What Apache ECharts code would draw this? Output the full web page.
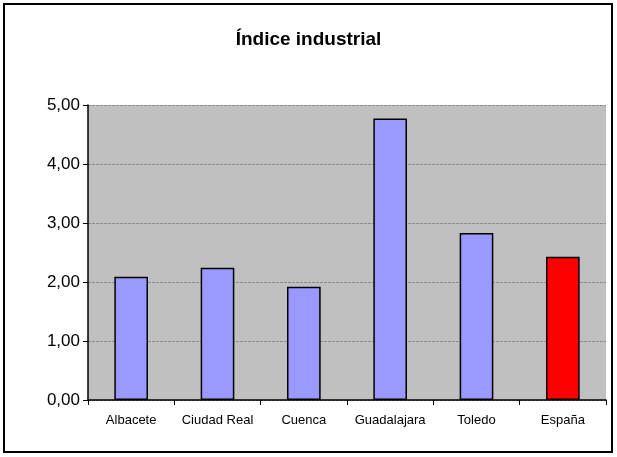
<!DOCTYPE html>
<html><head><meta charset="utf-8">
<script src="https://cdn.jsdelivr.net/npm/echarts@6/dist/echarts.min.js"></script>
<style>html,body{margin:0;padding:0;background:#fff}#c{width:617px;height:457px}</style>
</head><body><div id="c"></div>
<script>
const categories = ['Albacete','Ciudad Real','Cuenca','Guadalajara','Toledo','España'];
const values = [2.09, 2.24, 1.92, 4.77, 2.83, 2.43];
const barColors = ['#9999FF','#9999FF','#9999FF','#9999FF','#9999FF','#FF0000'];
const chart = echarts.init(document.getElementById('c'));
chart.setOption({
  animation:false,
  backgroundColor:'#fff',
  title:{text:'Índice industrial',left:'center',top:25,textStyle:{fontFamily:'Liberation Sans',fontSize:19,fontWeight:'bold',color:'#000'}},
  graphic:[{type:'rect',shape:{x:4,y:4,width:608,height:448},style:{fill:'none',stroke:'#000',lineWidth:2},z:-1}],
  grid:{left:88,right:11,top:105,bottom:57,show:true,backgroundColor:'#C0C0C0',borderWidth:0},
  xAxis:{type:'category',data:categories,
    axisLine:{lineStyle:{color:'#000',width:1.5}},
    axisTick:{show:true,length:5,lineStyle:{color:'#000'}},
    axisLabel:{fontFamily:'Liberation Sans',fontSize:13,color:'#000',margin:14,interval:0}},
  yAxis:{type:'value',min:0,max:5,interval:1,
    axisLine:{show:true,lineStyle:{color:'#000',width:1.5}},
    axisTick:{show:true,length:5,lineStyle:{color:'#000'}},
    splitLine:{lineStyle:{color:'#8c8c8c',type:[3,1],width:1}},
    axisLabel:{fontFamily:'Liberation Sans',fontSize:17,color:'#000',margin:8,
      formatter:v=>v.toFixed(2).replace('.',',')}},
  series:[{type:'bar',barWidth:'39%',
    data:values.map((v,i)=>({value:v,itemStyle:{color:barColors[i]}})),
    itemStyle:{borderColor:'#000',borderWidth:1.5}}]
});
</script></body></html>
